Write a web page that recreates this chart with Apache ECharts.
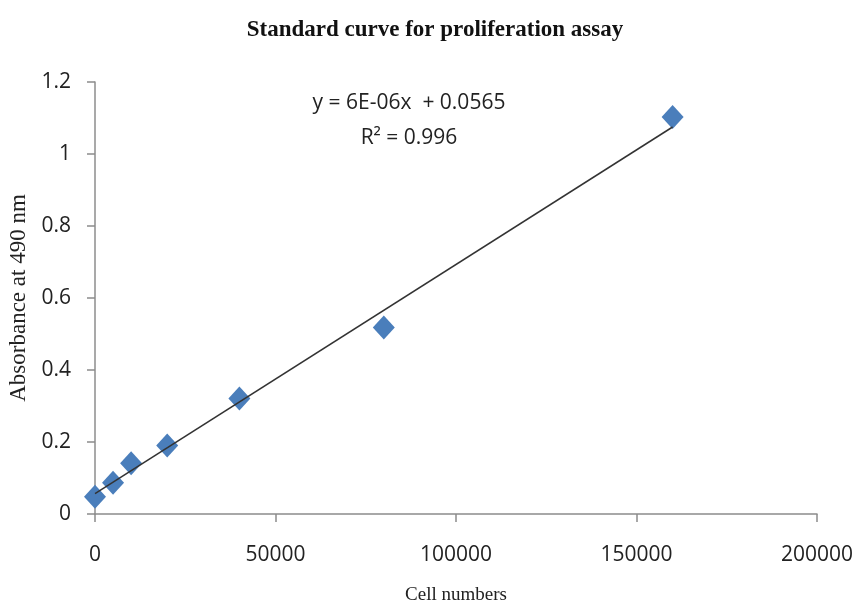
<!DOCTYPE html>
<html>
<head>
<meta charset="utf-8">
<script src="https://cdn.jsdelivr.net/npm/echarts@6/dist/echarts.min.js"></script>
<style>
  html, body { margin: 0; padding: 0; background: #fff; }
  #chart { width: 859px; height: 605px; }
</style>
</head>
<body>
<div id="chart"></div>
<script>
// measured points
const cellNumbers = [0, 5000, 10000, 20000, 40000, 80000, 160000];
const absorbance = [0.048, 0.087, 0.141, 0.19, 0.321, 0.518, 1.103];
// linear trendline ends
const trendX = [0, 160000];
const trendY = [0.0565, 1.075];
const equationText = 'y = 6E-06x  + 0.0565';
const r2Text = 'R\u00b2 = 0.996';

const pointData = cellNumbers.map((x, i) => [x, absorbance[i]]);
const trendData = trendX.map((x, i) => [x, trendY[i]]);

const chart = echarts.init(document.getElementById('chart'));
const sans = 'Open Sans';
const labelFont = { fontFamily: sans, fontSize: 21, color: '#222' };

const option = {
  animation: false,
  title: [
    {
      text: 'Standard curve for proliferation assay',
      left: 430, top: 14, textAlign: 'center',
      textStyle: { fontFamily: 'Liberation Serif', fontWeight: 'bold', fontSize: 23, color: '#111' }
    },
    {
      text: equationText,
      left: 404, top: 88, textAlign: 'center',
      textStyle: { fontFamily: sans, fontWeight: 'normal', fontSize: 21, color: '#222' }
    },
    {
      text: r2Text,
      left: 404, top: 123, textAlign: 'center',
      textStyle: { fontFamily: sans, fontWeight: 'normal', fontSize: 21, color: '#222' }
    }
  ],
  grid: { left: 95, right: 42, top: 82, bottom: 91, containLabel: false, outerBoundsMode: 'none' },
  xAxis: {
    type: 'value',
    min: 0, max: 200000, interval: 50000,
    name: 'Cell numbers',
    nameLocation: 'middle',
    nameGap: 72,
    nameTextStyle: { fontFamily: 'Liberation Serif', fontSize: 19, color: '#222' },
    axisLine: { show: true, lineStyle: { color: '#8c8c8c', width: 1.5 } },
    axisTick: { show: true, length: 8, lineStyle: { color: '#8c8c8c', width: 1.5 } },
    splitLine: { show: false },
    axisLabel: Object.assign({ margin: 31, formatter: v => String(v) }, labelFont)
  },
  yAxis: {
    type: 'value',
    min: 0, max: 1.2, interval: 0.2,
    name: 'Absorbance at 490 nm',
    nameLocation: 'middle',
    nameGap: 64,
    nameTextStyle: { fontFamily: 'Liberation Serif', fontSize: 23, color: '#222' },
    axisLine: { show: true, lineStyle: { color: '#8c8c8c', width: 1.5 } },
    axisTick: { show: true, length: 8, lineStyle: { color: '#8c8c8c', width: 1.5 } },
    splitLine: { show: false },
    axisLabel: Object.assign({ margin: 24, formatter: v => String(+v.toFixed(1)) }, labelFont)
  },
  series: [
    {
      type: 'line',
      data: trendData,
      symbol: 'none',
      lineStyle: { color: '#333', width: 1.5 },
      z: 3
    },
    {
      type: 'scatter',
      data: pointData,
      symbol: 'diamond',
      symbolSize: [22, 24],
      itemStyle: { color: '#4a7ebb', opacity: 1 },
      z: 2
    }
  ]
};
chart.setOption(option);
</script>
</body>
</html>
